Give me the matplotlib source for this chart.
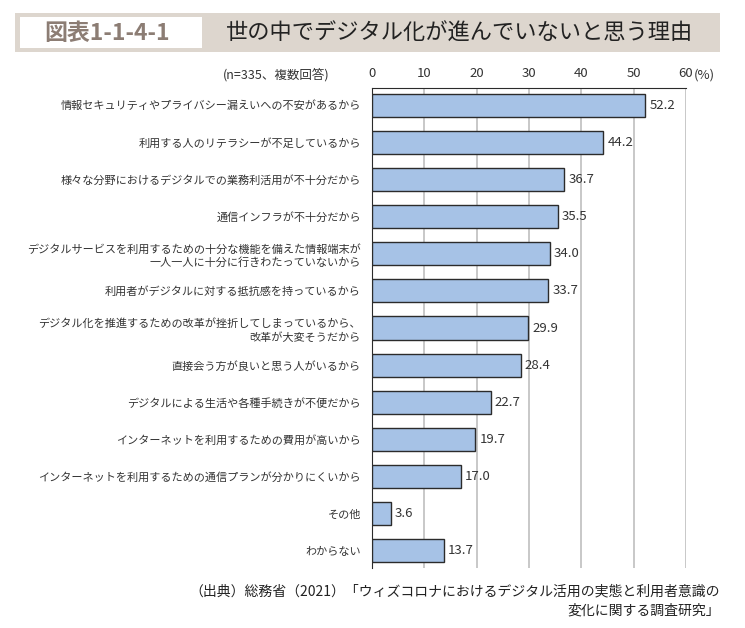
"""Bar chart: reasons digitalisation is not progressing (図表1-1-4-1)."""

import matplotlib
matplotlib.use("Agg")
import matplotlib.pyplot as plt
from matplotlib.patches import Rectangle

plt.rcParams["font.family"] = ["Noto Sans CJK JP", "DejaVu Sans"]

FIG_LABEL = "図表1-1-4-1"
TITLE = "世の中でデジタル化が進んでいないと思う理由"
NOTE = "(n=335、複数回答)"
SOURCE = "（出典）総務省（2021）「ウィズコロナにおけるデジタル活用の実態と利用者意識の\n変化に関する調査研究」"

reasons = [
    "情報セキュリティやプライバシー漏えいへの不安があるから",
    "利用する人のリテラシーが不足しているから",
    "様々な分野におけるデジタルでの業務利活用が不十分だから",
    "通信インフラが不十分だから",
    "デジタルサービスを利用するための十分な機能を備えた情報端末が\n一人一人に十分に行きわたっていないから",
    "利用者がデジタルに対する抵抗感を持っているから",
    "デジタル化を推進するための改革が挫折してしまっているから、\n改革が大変そうだから",
    "直接会う方が良いと思う人がいるから",
    "デジタルによる生活や各種手続きが不便だから",
    "インターネットを利用するための費用が高いから",
    "インターネットを利用するための通信プランが分かりにくいから",
    "その他",
    "わからない",
]
shares = [52.2, 44.2, 36.7, 35.5, 34.0, 33.7, 29.9, 28.4, 22.7, 19.7, 17.0, 3.6, 13.7]
x_ticks = [0, 10, 20, 30, 40, 50, 60]

TEXT = "#333333"
BAR = "#a6c2e6"

fig = plt.figure(figsize=(7.45, 6.28), dpi=100)

# header band
fig.patches.append(Rectangle((15 / 745, 1 - 52 / 628), 705 / 745, 39 / 628,
                             transform=fig.transFigure, facecolor="#ddd6ce",
                             edgecolor="none", zorder=0))
fig.patches.append(Rectangle((20 / 745, 1 - 48 / 628), 182 / 745, 31 / 628,
                             transform=fig.transFigure, facecolor="white",
                             edgecolor="none", zorder=1))
fig.text(107 / 745, 1 - 33 / 628, FIG_LABEL, ha="center", va="center",
         fontsize=16.5, fontweight="bold", color="#8c7d74")
fig.text(226 / 745, 1 - 33 / 628, TITLE, ha="left", va="center",
         fontsize=16, color="#222222")

ax = fig.add_axes([372 / 745, 1 - 568 / 628, 314 / 745, 480 / 628])
positions = list(range(len(reasons)))
ax.barh(positions, shares, height=0.62, color=BAR, edgecolor="#2b2b2b",
        linewidth=1.0, zorder=3)
for pos, val in zip(positions, shares):
    ax.text(val + 0.8, pos, f"{val:.1f}", va="center", ha="left",
            fontsize=9.5, color=TEXT)

ax.set_xlim(0, 60)
ax.set_ylim(len(reasons) - 0.54, -0.46)
ax.xaxis.tick_top()
ax.set_xticks(x_ticks)
ax.set_xticklabels([str(t) for t in x_ticks], fontsize=9.5, color=TEXT)
ax.tick_params(axis="x", length=0, pad=6)
ax.set_yticks(positions)
ax.set_yticklabels(reasons, fontsize=8, color=TEXT, linespacing=1.3)
ax.tick_params(axis="y", length=0, pad=8)
ax.grid(axis="x", color="#c4c4c4", linewidth=1.3, zorder=0)
for side in ["right", "bottom"]:
    ax.spines[side].set_visible(False)
ax.spines["left"].set_color("#2b2b2b")
ax.spines["top"].set_color("#2b2b2b")

fig.text(694 / 745, 1 - 75 / 628, "(%)", ha="left", va="center",
         fontsize=9.5, color=TEXT)
fig.text(330 / 745, 1 - 75 / 628, NOTE, ha="right", va="center",
         fontsize=9, color=TEXT)
fig.text(720 / 745, 1 - 601 / 628, SOURCE, ha="right", va="center",
         fontsize=10, color="#222222", linespacing=1.5, multialignment="right")

fig.savefig("out.png", dpi=100)
plt.close(fig)
